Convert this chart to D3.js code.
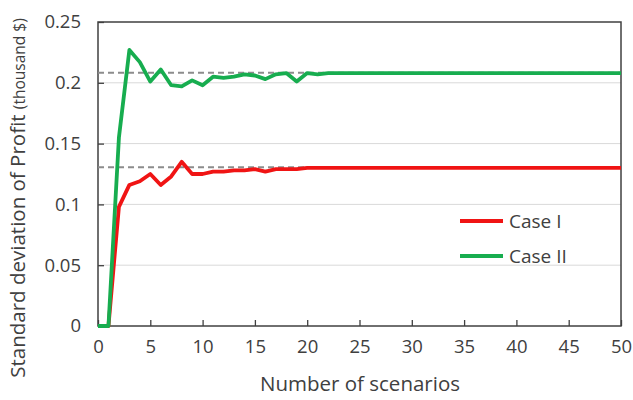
<!DOCTYPE html>
<html>
<head>
<meta charset="utf-8">
<script src="https://cdn.jsdelivr.net/npm/d3@7"></script>
<style>
  body { margin: 0; background: #fff; }
  svg text { font-family: "Open Sans", sans-serif; fill: #404040; }
</style>
</head>
<body>
<script>
// data
let scenarios = d3.range(0, 51);
let caseI = [0, 0, 0.098, 0.116, 0.119, 0.125, 0.116, 0.123, 0.135, 0.125,
  0.125, 0.127, 0.127, 0.128, 0.128, 0.129, 0.127, 0.129, 0.129, 0.129,
  0.130, 0.130, 0.130, 0.130, 0.130, 0.130, 0.130, 0.130, 0.130, 0.130,
  0.130, 0.130, 0.130, 0.130, 0.130, 0.130, 0.130, 0.130, 0.130, 0.130,
  0.130, 0.130, 0.130, 0.130, 0.130, 0.130, 0.130, 0.130, 0.130, 0.130, 0.130];
let caseII = [0, 0, 0.155, 0.227, 0.217, 0.201, 0.211, 0.198, 0.197, 0.202,
  0.198, 0.205, 0.204, 0.205, 0.207, 0.206, 0.203, 0.207, 0.208, 0.201,
  0.208, 0.207, 0.208, 0.208, 0.208, 0.208, 0.208, 0.208, 0.208, 0.208,
  0.208, 0.208, 0.208, 0.208, 0.208, 0.208, 0.208, 0.208, 0.208, 0.208,
  0.208, 0.208, 0.208, 0.208, 0.208, 0.208, 0.208, 0.208, 0.208, 0.208, 0.208];
let refLines = [0.1305, 0.2083];
let seriesNames = ["Case I", "Case II"];
let seriesColors = ["#f01414", "#17ad4f"];
let xTicks = [0, 5, 10, 15, 20, 25, 30, 35, 40, 45, 50];
let yTicks = [0, 0.05, 0.1, 0.15, 0.2, 0.25];

let width = 633,
    height = 400;
let pLeft = 98, pRight = 621, pTop = 22, pBottom = 326;

let svg = d3.select("body")
    .append("svg")
    .attr("width", width)
    .attr("height", height);

let x = d3.scaleLinear().domain([0, 50]).range([pLeft, pRight]);
let y = d3.scaleLinear().domain([0, 0.25]).range([pBottom, pTop]);

// gridlines
svg.selectAll(".grid")
    .data(yTicks.slice(1, -1))
    .enter()
    .append("line")
    .attr("x1", pLeft).attr("x2", pRight)
    .attr("y1", d => y(d)).attr("y2", d => y(d))
    .style("stroke", "#d9d9d9")
    .style("stroke-width", 1);

// axes with inward ticks
let xAxis = svg.append("g")
    .attr("transform", "translate(0," + pBottom + ")")
    .call(d3.axisBottom(x).tickValues(xTicks).tickSize(-6).tickPadding(14).tickFormat(d3.format("d")));
let yAxis = svg.append("g")
    .attr("transform", "translate(" + pLeft + ",0)")
    .call(d3.axisLeft(y).tickValues(yTicks).tickSize(-6).tickPadding(17).tickFormat(d => d === 0 ? "0" : String(d)));

[xAxis, yAxis].forEach(function(g){
    g.select(".domain").remove();
    g.selectAll(".tick line").style("stroke", "#404040").style("stroke-width", 1.3);
    g.selectAll("text").style("font-size", "18.5px").style("fill", "#404040");
});

// frame
svg.append("rect")
    .attr("x", pLeft).attr("y", pTop)
    .attr("width", pRight - pLeft).attr("height", pBottom - pTop)
    .style("fill", "none")
    .style("stroke", "#404040")
    .style("stroke-width", 1.5);

// reference dashed lines
svg.selectAll(".ref")
    .data(refLines)
    .enter()
    .append("line")
    .attr("x1", pLeft).attr("x2", pRight)
    .attr("y1", d => y(d)).attr("y2", d => y(d))
    .style("stroke", "#8c8c8c")
    .style("stroke-width", 2)
    .style("stroke-dasharray", "6,4");

let line = d3.line()
    .x((d, i) => x(scenarios[i]))
    .y(d => y(d));

svg.selectAll(".series")
    .data([caseI, caseII])
    .enter()
    .append("path")
    .attr("d", line)
    .style("fill", "none")
    .style("stroke", (d, i) => seriesColors[i])
    .style("stroke-width", 3.8)
    .style("stroke-linejoin", "round");

// legend
let legend = svg.selectAll(".legend")
    .data(seriesNames)
    .enter()
    .append("g")
    .attr("transform", (d, i) => "translate(460," + (221 + i * 35) + ")");
legend.append("line")
    .attr("x1", 0).attr("x2", 43)
    .style("stroke", (d, i) => seriesColors[i])
    .style("stroke-width", 3.8);
legend.append("text")
    .attr("x", 49).attr("dy", "0.35em")
    .style("font-size", "19px")
    .text(d => d);

// axis titles
svg.append("text")
    .attr("x", 360)
    .attr("y", 391)
    .attr("text-anchor", "middle")
    .style("font-size", "20.5px")
    .text("Number of scenarios");

let yt = svg.append("text")
    .attr("transform", "translate(25,198) rotate(-90)")
    .attr("text-anchor", "middle")
    .style("font-size", "20.5px");
yt.append("tspan").text("Standard deviation of Profit ");
yt.append("tspan").style("font-size", "15.5px").text("(thousand $)");
</script>
</body>
</html>
